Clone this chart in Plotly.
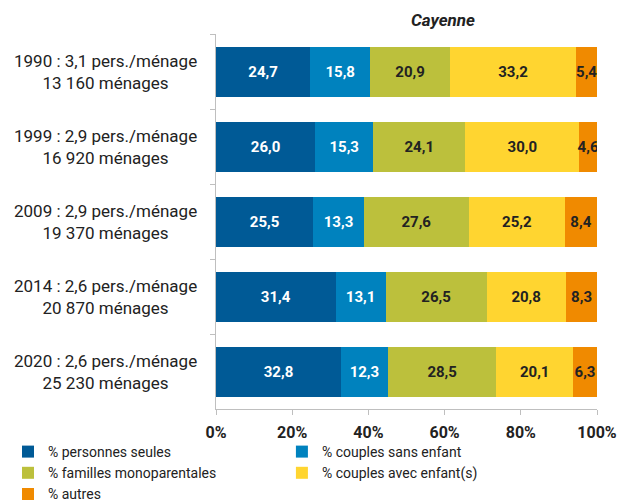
"""Répartition des ménages par type - Cayenne."""

import plotly.graph_objects as go

years = ["1990", "1999", "2009", "2014", "2020"]
year_labels = [
    "1990 : 3,1 pers./ménage<br>13 160 ménages",
    "1999 : 2,9 pers./ménage<br>16 920 ménages",
    "2009 : 2,9 pers./ménage<br>19 370 ménages",
    "2014 : 2,6 pers./ménage<br>20 870 ménages",
    "2020 : 2,6 pers./ménage<br>25 230 ménages",
]

personnes_seules = [24.7, 26.0, 25.5, 31.4, 32.8]
couples_sans_enfant = [15.8, 15.3, 13.3, 13.1, 12.3]
familles_monoparentales = [20.9, 24.1, 27.6, 26.5, 28.5]
couples_avec_enfants = [33.2, 30.0, 25.2, 20.8, 20.1]
autres = [5.4, 4.6, 8.4, 8.3, 6.3]

x_ticks = [0, 20, 40, 60, 80, 100]

# nom, valeurs, couleur, couleur du texte, légende (colonne)
series = [
    ("% personnes seules", personnes_seules, "#005a96", "white", "legend"),
    ("% couples sans enfant", couples_sans_enfant, "#0082be", "white", "legend2"),
    ("% familles monoparentales", familles_monoparentales, "#bcc03c", "#222222", "legend"),
    ("% couples avec enfant(s)", couples_avec_enfants, "#ffd530", "#222222", "legend2"),
    ("% autres", autres, "#f08a00", "#222222", "legend"),
]

fig = go.Figure()
for name, values, color, text_color, legend in series:
    fig.add_trace(
        go.Bar(
            name=name,
            y=years,
            x=values,
            orientation="h",
            legend=legend,
            marker=dict(color=color, line=dict(width=0)),
            texttemplate="%{x:.1f}",
            textposition="inside",
            insidetextanchor="middle",
            textangle=0,
            constraintext="none",
            textfont=dict(family="Roboto", size=15, color=text_color, weight="bold"),
        )
    )

# Libellés des années, centrés, à gauche des barres
for i, label in enumerate(year_labels):
    fig.add_annotation(
        x=-0.289,
        xref="paper",
        xanchor="center",
        y=i,
        yref="y",
        text=label,
        showarrow=False,
        align="center",
        font=dict(family="Roboto", size=17, color="#222222"),
    )

fig.add_annotation(
    x=0.596,
    xref="paper",
    xanchor="center",
    y=1,
    yref="paper",
    yanchor="bottom",
    yshift=2,
    text="<b><i>Cayenne</i></b>",
    showarrow=False,
    font=dict(family="Roboto", size=17, color="#222222"),
)

legend_style = dict(
    orientation="v",
    xref="paper",
    yref="container",
    y=0.128,
    xanchor="left",
    yanchor="top",
    itemwidth=30,
    traceorder="normal",
    bgcolor="rgba(0,0,0,0)",
    font=dict(family="Roboto", size=14, color="#222222"),
)

fig.update_layout(
    width=618,
    height=500,
    barmode="stack",
    bargap=1 / 3,
    separators=", ",
    plot_bgcolor="white",
    paper_bgcolor="white",
    margin=dict(l=216, r=21, t=34, b=91, autoexpand=False),
    font=dict(family="Roboto", color="#222222"),
    xaxis=dict(
        type="linear",
        range=[0, 100],
        tickmode="array",
        tickvals=x_ticks,
        ticktext=[f"{v}%" for v in x_ticks],
        showgrid=False,
        zeroline=False,
        showline=True,
        linecolor="#bfbfbf",
        ticks="outside",
        ticklen=5,
        tickcolor="#bfbfbf",
        ticklabelstandoff=4,
        tickfont=dict(family="Roboto", size=16, color="#222222", weight="bold"),
    ),
    yaxis=dict(
        type="category",
        categoryorder="array",
        categoryarray=years,
        range=[4.5, -0.5],
        showticklabels=False,
        showgrid=False,
        showline=True,
        linecolor="#bfbfbf",
        ticks="outside",
        ticklen=5,
        tickcolor="#bfbfbf",
        tickson="boundaries",
    ),
    legend=dict(legend_style, x=-0.546),
    legend2=dict(legend_style, x=0.173),
    showlegend=True,
)

# pas de marge autour du graphique dans la page, pas de barre d'outils
fig.write_html(
    "out.html",
    config={"displayModeBar": False},
    post_script="document.body.style.margin = '0';",
)
